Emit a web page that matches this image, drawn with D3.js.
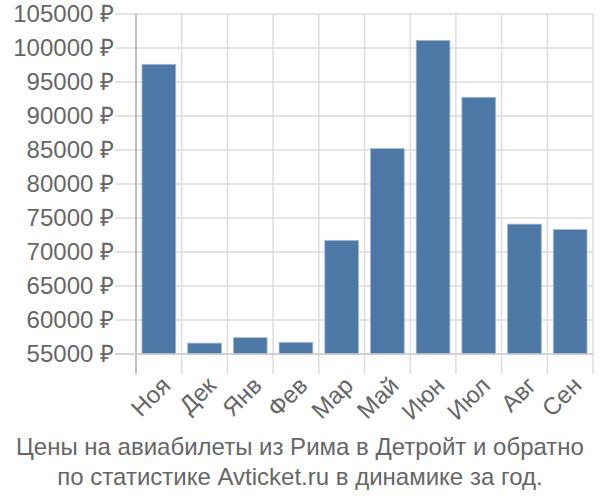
<!DOCTYPE html>
<html><head><meta charset="utf-8">
<script src="https://cdn.jsdelivr.net/npm/d3@7"></script>
<style>body{margin:0;background:#fff}svg{display:block}</style>
</head><body>
<svg id="c" width="600" height="500"></svg>
<script>
const categories = ["Ноя","Дек","Янв","Фев","Мар","Май","Июн","Июл","Авг","Сен"];
const values = [97600, 56600, 57400, 56700, 71700, 85200, 101100, 92750, 74100, 73300];
const yTicks = [55000,60000,65000,70000,75000,80000,85000,90000,95000,100000,105000];
const titleLines = ["Цены на авиабилеты из Рима в Детройт и обратно","по статистике Avticket.ru в динамике за год."];

const svg = d3.select("#c");
const font = "'Liberation Sans', Arial, sans-serif";
const L = 136, R = 593, T = 14, B = 354;
const x = d3.scaleBand().domain(categories).range([L, R]).paddingInner(0).paddingOuter(0);
const y = d3.scaleLinear().domain([55000, 105000]).range([B, T]);

// horizontal grid + ticks
svg.append("g").selectAll("line").data(yTicks).join("line")
  .attr("x1", 115).attr("x2", R).attr("y1", d => y(d)).attr("y2", d => y(d))
  .attr("stroke", "#dddddd").attr("stroke-width", 1.5);
// vertical grid lines at band boundaries
const bounds = categories.map(c => x(c)).concat([R]);
svg.append("g").selectAll("line").data(bounds.slice(1)).join("line")
  .attr("x1", d => d).attr("x2", d => d).attr("y1", T).attr("y2", 374)
  .attr("stroke", "#dddddd").attr("stroke-width", 1.5);

// bars
const pad = 6;
svg.append("g").selectAll("rect").data(values).join("rect")
  .attr("x", (d,i) => x(categories[i]) + pad)
  .attr("width", x.bandwidth() - 2*pad)
  .attr("y", d => y(d))
  .attr("height", d => B - y(d))
  .attr("fill", "#4e79a7")
  .attr("stroke", "#9fb8d6").attr("stroke-width", 0.8);

// axis lines
svg.append("line").attr("x1", L).attr("x2", L).attr("y1", T).attr("y2", 374)
  .attr("stroke", "#aaaaaa").attr("stroke-width", 1.5);
svg.append("line").attr("x1", 115).attr("x2", R).attr("y1", B).attr("y2", B)
  .attr("stroke", "#cccccc").attr("stroke-width", 1.5);

// y labels
svg.append("g").selectAll("text").data(yTicks).join("text")
  .attr("x", 114).attr("y", d => y(d)).attr("dy", "0.35em")
  .attr("text-anchor", "end").attr("font-family", font).attr("font-size", 24)
  .attr("fill", "#666666").text(d => d + " ₽");

// x labels
svg.append("g").selectAll("text").data(categories).join("text")
  .attr("transform", d => `translate(${x(d) + x.bandwidth()/2 + 13},${387}) rotate(-45)`)
  .attr("text-anchor", "end").attr("font-family", font).attr("font-size", 24)
  .attr("fill", "#666666").text(d => d);

// title
svg.append("g").selectAll("text").data(titleLines).join("text")
  .attr("x", 300).attr("y", (d,i) => 455 + i*30)
  .attr("text-anchor", "middle").attr("font-family", font).attr("font-size", 24)
  .attr("fill", "#666666").text(d => d);
</script>
</body></html>
